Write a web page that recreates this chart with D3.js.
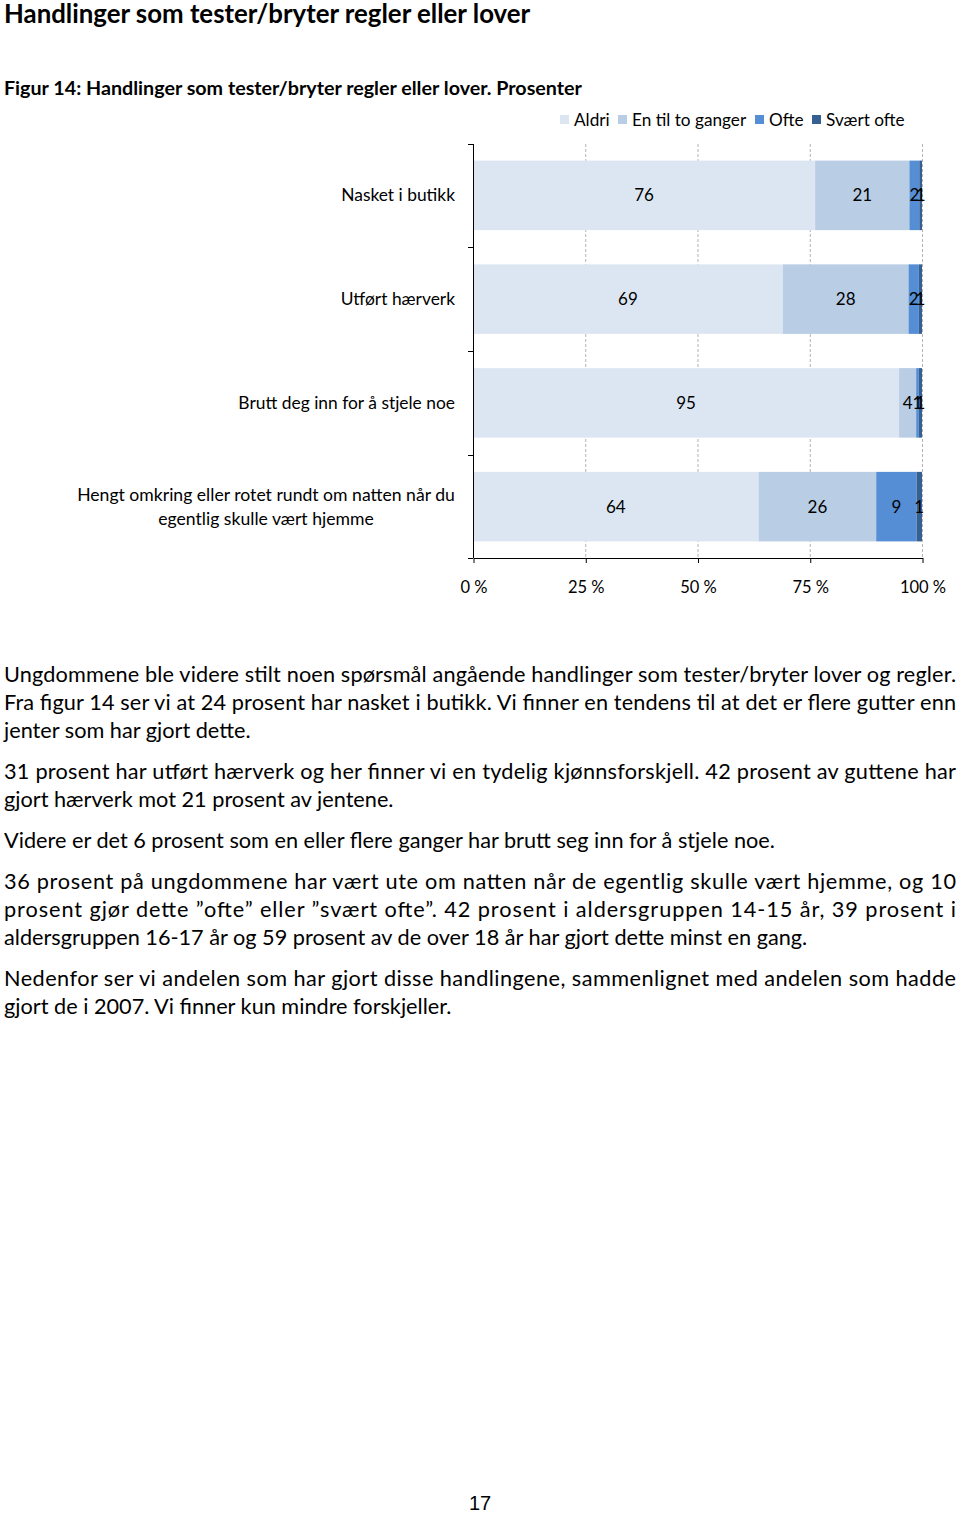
<!DOCTYPE html>
<html>
<head>
<meta charset="utf-8">
<script src="https://cdn.jsdelivr.net/npm/d3@7"></script>
<style>
  body { margin: 0; background: #fff; }
  svg text { font-family: Lato, "Open Sans", sans-serif; fill: #000; }
</style>
</head>
<body>
<svg id="page" width="960" height="1513"></svg>
<script>
// chart data (shares in percent, labels shown rounded)
var categories = ["Nasket i butikk", "Utført hærverk", "Brutt deg inn for å stjele noe",
                  "Hengt omkring eller rotet rundt om natten når du egentlig skulle vært hjemme"];
var seriesNames = ["Aldri", "En til to ganger", "Ofte", "Svært ofte"];
var aldri   = [76.2, 69.0, 94.9, 63.6];
var enTilTo = [21.0, 28.0, 3.8, 26.2];
var ofte    = [2.2, 2.3, 0.6, 9.0];
var svaert  = [0.6, 0.7, 0.7, 1.2];
var tickLabels = ["0 %", "25 %", "50 %", "75 %", "100 %"];
var colors = ["#dce6f2", "#b9cde5", "#558ed5", "#376092"];

// body text, line by line (justified lines marked with j)
var bodyLines = [
    {t: "Ungdommene ble videre stilt noen spørsmål angående handlinger som tester/bryter lover og regler.", j: 1, y: 682},
    {t: "Fra figur 14 ser vi at 24 prosent har nasket i butikk. Vi finner en tendens til at det er flere gutter enn", j: 1, y: 710},
    {t: "jenter som har gjort dette.", j: 0, y: 738},
    {t: "31 prosent har utført hærverk og her finner vi en tydelig kjønnsforskjell. 42 prosent av guttene har", j: 1, y: 779},
    {t: "gjort hærverk mot 21 prosent av jentene.", j: 0, y: 807},
    {t: "Videre er det 6 prosent som en eller flere ganger har brutt seg inn for å stjele noe.", j: 0, y: 848},
    {t: "36 prosent på ungdommene har vært ute om natten når de egentlig skulle vært hjemme, og 10", j: 1, y: 889},
    {t: "prosent gjør dette ”ofte” eller ”svært ofte”. 42 prosent i aldersgruppen 14-15 år, 39 prosent i", j: 1, y: 917},
    {t: "aldersgruppen 16-17 år og 59 prosent av de over 18 år har gjort dette minst en gang.", j: 0, y: 945},
    {t: "Nedenfor ser vi andelen som har gjort disse handlingene, sammenlignet med andelen som hadde", j: 1, y: 986},
    {t: "gjort de i 2007. Vi finner kun mindre forskjeller.", j: 0, y: 1014}
];

var svg = d3.select("#page");

svg.append("text").attr("x", 4).attr("y", 23)
    .style("font-size", "25.8px").style("font-weight", "bold")
    .text("Handlinger som tester/bryter regler eller lover");

svg.append("text").attr("x", 4).attr("y", 95)
    .style("font-size", "19.7px").style("font-weight", "bold")
    .text("Figur 14: Handlinger som tester/bryter regler eller lover. Prosenter");

// build rows for the stack
var rows = categories.map(function(c, i) {
    return {cat: c, "Aldri": aldri[i], "En til to ganger": enTilTo[i], "Ofte": ofte[i], "Svært ofte": svaert[i]};
});

var stack = d3.stack().keys(seriesNames).offset(d3.stackOffsetExpand);
var layers = stack(rows);

var x = d3.scaleLinear().domain([0, 1]).range([473, 922]);
var y = d3.scaleBand().domain(categories).range([144, 558])
    .paddingInner(0.33).paddingOuter(0.16);
var color = d3.scaleOrdinal().domain(seriesNames).range(colors);

// gridlines
svg.append("g").selectAll("line")
    .data([0.25, 0.5, 0.75, 1])
    .enter().append("line")
    .attr("x1", function(d) { return x(d) + 0.5; })
    .attr("x2", function(d) { return x(d) + 0.5; })
    .attr("y1", 144).attr("y2", 558)
    .style("stroke", "#b3b3b3").style("stroke-dasharray", "3,2").style("stroke-width", 1);

// bars
var layerG = svg.append("g").selectAll("g")
    .data(layers)
    .enter().append("g")
    .style("fill", function(d) { return color(d.key); });

layerG.selectAll("rect")
    .data(function(d) { return d; })
    .enter().append("rect")
    .attr("x", function(d) { return x(d[0]); })
    .attr("y", function(d) { return y(d.data.cat); })
    .attr("width", function(d) { return x(d[1]) - x(d[0]); })
    .attr("height", y.bandwidth());

// data labels
layers.forEach(function(layer) {
    svg.append("g").selectAll("text")
        .data(layer)
        .enter().append("text")
        .attr("x", function(d) { return (x(d[0]) + x(d[1])) / 2; })
        .attr("y", function(d) { return y(d.data.cat) + y.bandwidth() / 2 + 6; })
        .attr("text-anchor", "middle")
        .style("font-size", "17px")
        .text(function(d) { return Math.round(d.data[layer.key]); });
});

// bottom axis
var xAxis = d3.axisBottom(x)
    .tickValues([0, 0.25, 0.5, 0.75, 1])
    .tickFormat(function(d, i) { return tickLabels[i]; })
    .tickSizeInner(5).tickSizeOuter(0).tickPadding(18);

var gx = svg.append("g").attr("transform", "translate(0.5,558)").call(xAxis);
gx.select(".domain").style("stroke", "#000");
gx.selectAll(".tick line").style("stroke", "#000");
gx.selectAll("text").style("font-size", "16.5px").style("font-family", "Lato, sans-serif").attr("fill", "#000");

// left axis line and ticks between categories
svg.append("line").attr("x1", 473.5).attr("x2", 473.5).attr("y1", 144).attr("y2", 558)
    .style("stroke", "#000");
var bounds = d3.range(categories.length + 1).map(function(i) {
    return i < categories.length ? y(categories[i]) - y.step() * y.paddingInner() / 2 : 558;
});
bounds[0] = 144;
svg.append("g").selectAll("line")
    .data(bounds)
    .enter().append("line")
    .attr("x1", 468).attr("x2", 473)
    .attr("y1", function(d) { return Math.round(d) + 0.5; })
    .attr("y2", function(d) { return Math.round(d) + 0.5; })
    .style("stroke", "#000");

// category labels
categories.forEach(function(c, i) {
    var cy = y(c) + y.bandwidth() / 2;
    if (i === 3) {
        var t = svg.append("text").attr("text-anchor", "middle").style("font-size", "17.6px");
        t.append("tspan").attr("x", 266).attr("y", cy - 6).text("Hengt omkring eller rotet rundt om natten når du");
        t.append("tspan").attr("x", 266).attr("y", cy + 18).text("egentlig skulle vært hjemme");
    } else {
        svg.append("text").attr("x", 455).attr("y", cy + 6)
            .attr("text-anchor", "end").style("font-size", "17.4px").text(c);
    }
});

// legend
var legendX = [560, 618, 755, 812];
var legend = svg.append("g").selectAll("g")
    .data(seriesNames)
    .enter().append("g")
    .attr("transform", function(d, i) { return "translate(" + legendX[i] + ",0)"; });
legend.append("rect").attr("x", 0).attr("y", 115).attr("width", 9).attr("height", 9)
    .style("fill", function(d) { return color(d); });
legend.append("text").attr("x", 14).attr("y", 126).style("font-size", "17.2px")
    .text(function(d) { return d; });

// body text
var body = svg.append("g");
body.selectAll("text")
    .data(bodyLines)
    .enter().append("text")
    .attr("x", 4)
    .attr("y", function(d) { return d.y; })
    .style("font-size", "21.7px")
    .attr("textLength", function(d) { return d.j ? 952 : null; })
    .attr("lengthAdjust", "spacing")
    .text(function(d) { return d.t; });

svg.append("text").attr("x", 480).attr("y", 1510).attr("text-anchor", "middle")
    .style("font-size", "20px").style("font-family", "Liberation Sans, Arial, sans-serif")
    .text("17");
</script>
</body>
</html>
